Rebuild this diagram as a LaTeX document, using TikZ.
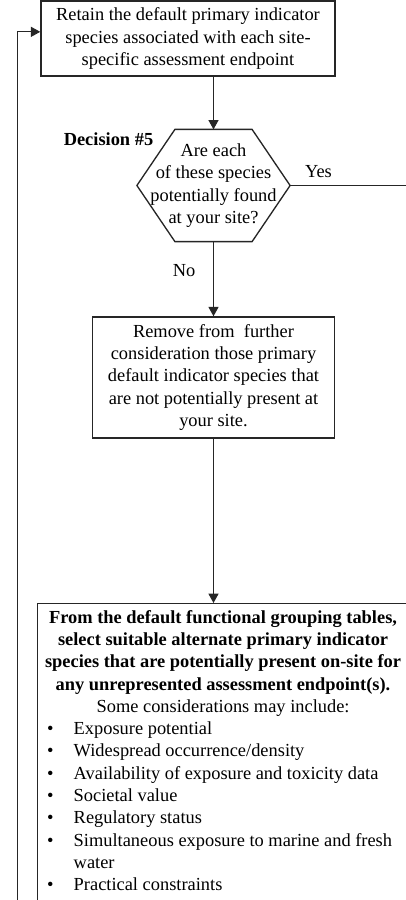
\documentclass[tikz,border=0pt]{standalone}
\usepackage{fontspec}
\setmainfont{Liberation Serif}
\usepackage{enumitem}
\usetikzlibrary{arrows.meta,positioning}

\begin{document}
\begin{tikzpicture}%
  [x=0.75pt, y=-0.75pt,
   >={Triangle[length=7pt,width=7.5pt]},
   font=\fontsize{13.8}{16.7}\selectfont,
   line width=0.9pt,
   node distance=144pt,
   on grid,
   stepbox/.style={draw=black!85, line width=1.1pt, align=center, inner sep=2pt},
   hexline/.style={draw=black!85, line width=1pt},
   link/.style={->, draw=black!85},
   tag/.style={inner sep=0pt}
  ]
\useasboundingbox (0,0) rectangle (406,900);
\clip (0,0) rectangle (406,900);

\node[stepbox, minimum width=220.5pt, minimum height=56.25pt] (keep) at (188,38.5)
  {Retain the default primary indicator\\species associated with each site-\\specific assessment endpoint};
\node[minimum width=114pt, minimum height=83.25pt, align=center, inner sep=0pt] (dec) at (213.5,185.5)
  {Are each\\of these species\\potentially found\\at your site?};
\node[stepbox, minimum width=181.5pt, minimum height=90.75pt] (drop) [below=144pt of dec]
  {Remove from\ \ further\\consideration those primary\\default indicator species that\\are not potentially present at\\your site.};
\node[stepbox, anchor=north west, inner ysep=5pt] (alt) at (37,603)
  {\begin{minipage}[t][300pt][t]{274pt}
   \centering\bfseries
   From the default functional grouping tables,\\
   select suitable alternate primary indicator\\
   species that are potentially present on-site for\\
   any unrepresented assessment endpoint(s).\par
   \mdseries Some considerations may include:\par
   \raggedright
   \begin{itemize}[label=\textbullet, leftmargin=25pt, labelwidth=20pt, labelsep=0pt,
                   align=left, topsep=0pt, itemsep=0pt, parsep=0pt, partopsep=0pt]
   \item Exposure potential
   \item Widespread occurrence/density
   \item Availability of exposure and toxicity data
   \item Societal value
   \item Regulatory status
   \item Simultaneous exposure to marine and fresh water
   \item Practical constraints
   \end{itemize}
   \end{minipage}};

% hexagon round the decision text
\draw[hexline] (dec.west) -- ([xshift=28.5pt]dec.north west) -- ([xshift=-28.5pt]dec.north east)
  -- (dec.east) -- ([xshift=-28.5pt]dec.south east) -- ([xshift=28.5pt]dec.south west) -- cycle;

\node[tag, font=\fontsize{13.8}{16.7}\selectfont\bfseries] (declabel) at (108.5,139) {Decision \#5};
\node[tag] (yeslabel) at (318.5,172) {Yes};
\node[tag] (nolabel)  at (184,271)   {No};

\coordinate (yesend)   at (406,185.5);
\coordinate (loopfoot) at (17,900);

\draw[link] (keep.south -| dec.north) -- (dec.north);
\draw[draw=black!85] (dec.east) -- (yesend);
\draw[link] (dec.south) -- (drop.north);
\draw[link] (drop.south) -- (drop.south |- alt.north);
\draw[link, line width=0.75pt] (loopfoot) |- ([yshift=5pt]keep.west);
\end{tikzpicture}
\end{document}
